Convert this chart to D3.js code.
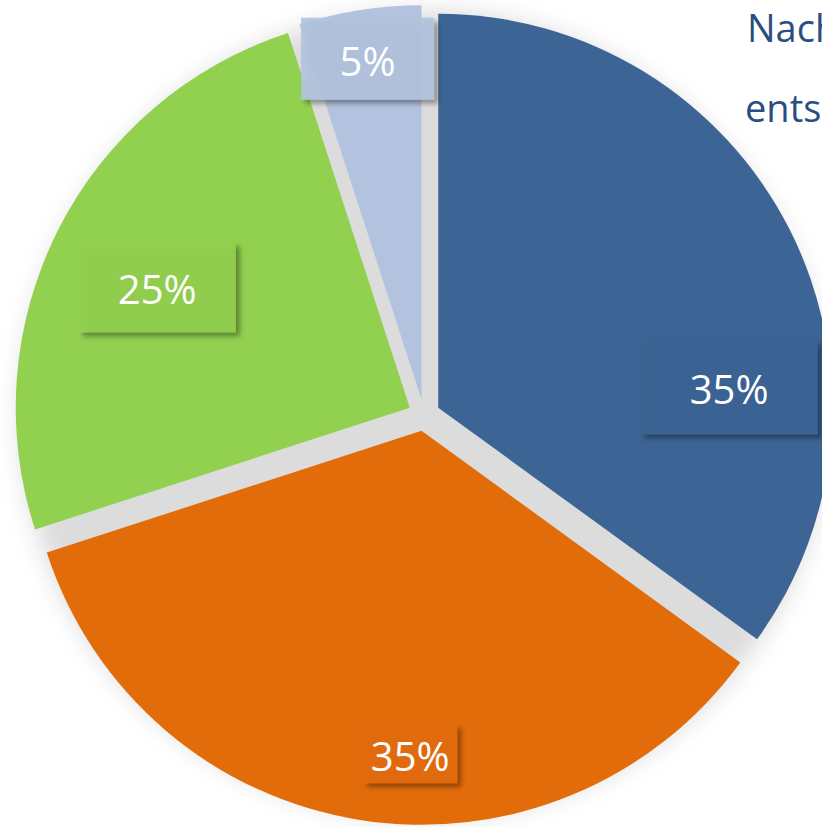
<!DOCTYPE html>
<html>
<head>
<meta charset="utf-8">
<script src="https://cdn.jsdelivr.net/npm/d3@7"></script>
<style>
  html, body { margin: 0; padding: 0; background: #fff; overflow: hidden; }
  svg { display: block; font-family: "Open Sans", sans-serif; }
</style>
</head>
<body>
<div id="chart"></div>
<script>

	// data
	let shares = [35, 35, 25, 5];
	let sliceColors = ["#3c6494", "#e36c0a", "#92d050", "#b3c3df"];
	let labels = ["35%", "35%", "25%", "5%"];
	let sideText = ["Nach", "ents"];

	// label layout: angle shift (deg) from mid angle, radius fraction, box size
	let labelLayout = [
		{ shift: 23, rf: 0.74, w: 177, h: 94 },
		{ shift: -7, rf: 0.82, w: 94, h: 59 },
		{ shift: -1.5, rf: 0.71, w: 157, h: 90 },
		{ shift: 0, rf: 0.875, w: 133, h: 82 }
	];

	let width = 822;
	let height = 827;
	let cx = 424, cy = 415;
	let radius = 394;
	let explode = 16;

	let svg = d3.select('#chart')
		.append('svg')
		.attr('width', width)
		.attr('height', height);

	let defs = svg.append('defs');

	defs.append('filter')
		.attr('id', 'pieShadow')
		.attr('x', '-20%').attr('y', '-20%')
		.attr('width', '140%').attr('height', '140%')
		.append('feGaussianBlur')
		.attr('stdDeviation', 12);

	let boxShadow = defs.append('filter')
		.attr('id', 'boxShadow')
		.attr('x', '-20%').attr('y', '-20%')
		.attr('width', '150%').attr('height', '150%');
	boxShadow.append('feDropShadow')
		.attr('dx', 4)
		.attr('dy', 4)
		.attr('stdDeviation', 2.5)
		.attr('flood-color', '#000')
		.attr('flood-opacity', 0.4);

	let g = svg.append('g')
		.attr('transform', `translate(${cx}, ${cy})`);

	// grey shadow behind the whole pie
	g.append('circle')
		.attr('r', radius + 10)
		.attr('fill', '#dcdcdc')
		.attr('filter', 'url(#pieShadow)');

	let pie = d3.pie().sort(null).value(d => d);
	let data_ready = pie(shares);

	let arc = d3.arc()
		.innerRadius(0)
		.outerRadius(radius);

	function offset(angle, dist) {
		return [Math.sin(angle) * dist, -Math.cos(angle) * dist];
	}

	let slices = g.selectAll('g.slice')
		.data(data_ready)
		.enter()
		.append('g')
		.attr('class', 'slice')
		.attr('transform', d => {
			let mid = (d.startAngle + d.endAngle) / 2;
			let o = offset(mid, explode);
			return `translate(${o[0]}, ${o[1]})`;
		});

	slices.append('path')
		.attr('d', arc)
		.attr('fill', (d, i) => sliceColors[i]);

	// Labels
	let labelG = slices.append('g')
		.attr('transform', (d, i) => {
			let l = labelLayout[i];
			let mid = (d.startAngle + d.endAngle) / 2 + l.shift * Math.PI / 180;
			let o = offset(mid, radius * l.rf);
			return `translate(${o[0]}, ${o[1]})`;
		});

	labelG.append('rect')
		.attr('x', (d, i) => -labelLayout[i].w / 2)
		.attr('y', (d, i) => -labelLayout[i].h / 2)
		.attr('width', (d, i) => labelLayout[i].w)
		.attr('height', (d, i) => labelLayout[i].h)
		.attr('fill', (d, i) => sliceColors[i])
		.attr('fill-opacity', 0.9)
		.attr('filter', 'url(#boxShadow)');

	labelG.append('text')
		.text((d, i) => labels[i])
		.attr('y', 17)
		.attr('text-anchor', 'middle')
		.attr('fill', '#fff')
		.style('font-size', '40px');

	// cut-off text on the right
	svg.selectAll('text.side')
		.data(sideText)
		.enter()
		.append('text')
		.attr('class', 'side')
		.attr('x', (d, i) => i === 0 ? 747 : 745)
		.attr('y', (d, i) => 42 + i * 80)
		.attr('fill', '#2b4e80')
		.style('font-size', '38px')
		.text(d => d);

</script>
</body>
</html>
